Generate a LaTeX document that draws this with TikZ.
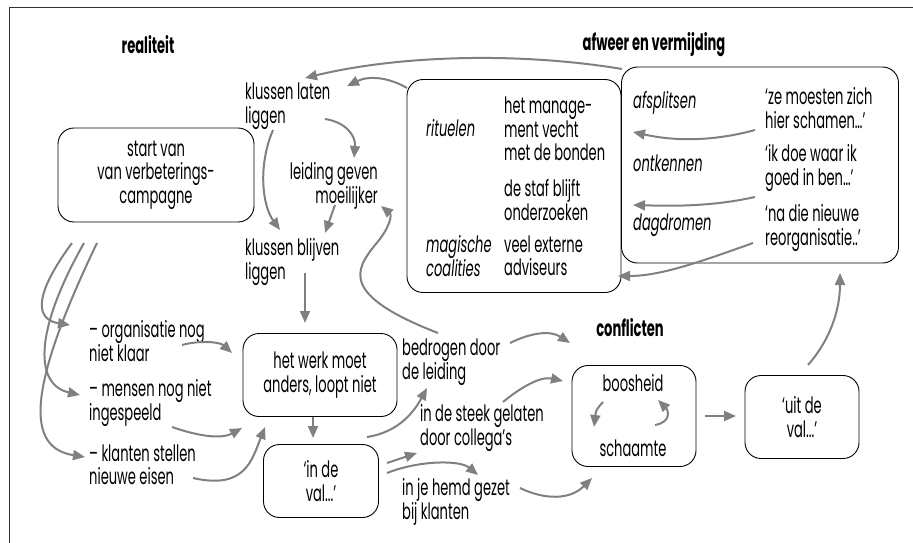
\documentclass[tikz,border=0pt]{standalone}
\usepackage{fontspec}
\setmainfont{Poppins}[FakeStretch=0.58]
\usetikzlibrary{arrows.meta}
\definecolor{arrowgray}{RGB}{128,128,128}
\begin{document}
\begin{tikzpicture}[x=1pt,y=-1pt,
  font=\fontsize{22.5}{23.5}\selectfont,
  box/.style={draw=black, line width=0.9pt, rounded corners=16pt, align=center, inner sep=0pt},
  txt/.style={align=left, inner sep=0pt},
  rtxt/.style={align=right, inner sep=0pt},
  itxt/.style={align=left, inner sep=0pt, font=\fontsize{22.5}{23.5}\selectfont\itshape},
  head/.style={inner sep=0pt, font=\fontsize{22.5}{23.5}\selectfont\bfseries},
  arr/.style={draw=arrowgray, line width=2pt, -{Triangle[length=12pt,width=10pt]}},
  ln/.style={draw=arrowgray, line width=2pt}]
\useasboundingbox (0,0) rectangle (913,543);
\draw[line width=1pt, black!80] (913,8) -- (9,8) -- (9,543);

% headings
\node[head] (hreal) at (148,45) {realiteit};
\node[head] (hafw) at (654,45) {afweer en vermijding};
\node[head] (hconf) at (630,328) {conflicten};

% boxes
\node[box, minimum width=196pt, minimum height=94pt] (start) at (156,175) {start van\\van verbeterings-\\campagne};
\node[box, minimum width=154pt, minimum height=83pt] (werk) at (320,375) {het werk moet\\anders, loopt niet};
\node[box, minimum width=115pt, minimum height=73pt] (inval) at (321,481) {‘in de\\val...’};
\node[box, minimum width=124pt, minimum height=101pt] (conf) at (634,416) {};
\node[box, minimum width=114pt, minimum height=83pt] (uit) at (802,417) {‘uit de\\val...’};
\node[box, minimum width=214pt, minimum height=213pt] (rit) at (514,186) {};
\node[box, minimum width=277pt, minimum height=196pt] (afs) at (760,165) {};

% texts
\node[txt, anchor=west] (kll) at (245,106) {klussen laten\\liggen};
\node[rtxt, anchor=east] (lgm) at (378,186) {leiding geven\\moeilijker};
\node[txt, anchor=west] (klb) at (245,262) {klussen blijven\\liggen};
\node[txt, anchor=west] (org) at (89,341) {– organisatie nog\\niet klaar};
\node[txt, anchor=west] (men) at (89,403) {– mensen nog niet\\ingespeeld};
\node[txt, anchor=west] (kla) at (89,465) {– klanten stellen\\nieuwe eisen};
\node[txt, anchor=west] (bed) at (402,362) {bedrogen door\\de leiding};
\node[txt, anchor=west] (stk) at (420,428) {in de steek gelaten\\door collega’s};
\node[txt, anchor=west] (hemd) at (402,502) {in je hemd gezet\\bij klanten};
\node[inner sep=0pt] (boos) at (633,383) {boosheid};
\node[inner sep=0pt] (scha) at (633,448) {schaamte};

\node[itxt, anchor=west] (r1) at (426,128) {rituelen};
\node[txt, anchor=west] (r2) at (504,129) {het manage-\\ment vecht\\met de bonden};
\node[txt, anchor=west] (r3) at (504,200) {de staf blijft\\onderzoeken};
\node[itxt, anchor=west] (r4) at (426,256) {magische\\coalities};
\node[txt, anchor=west] (r5) at (504,256) {veel externe\\adviseurs};

\node[itxt, anchor=west] (s1) at (633,103) {afsplitsen};
\node[itxt, anchor=west] (s2) at (633,163) {ontkennen};
\node[itxt, anchor=west] (s3) at (633,225) {dagdromen};
\node[txt, anchor=west] (q1) at (765,108) {‘ze moesten zich\\hier schamen\ldots’};
\node[txt, anchor=west] (q2) at (765,168) {‘ik doe waar ik\\goed in ben\ldots’};
\node[txt, anchor=west] (q3) at (765,228) {‘na die nieuwe\\reorganisatie..’};

% top arrows
\draw[arr] ([shift={(-138,-96)}]afs.center) .. controls (520,52) and (400,55) .. ([shift={(60,-28)}]kll.west);
\draw[arr] ([shift={(-107,-98)}]rit.center) .. controls (390,78) and (370,75) .. ([shift={(102,-20)}]kll.west);
% inside afs
\draw[arr] ([shift={(-10,22)}]q1.west) .. controls (700,145) and (660,138) .. ([shift={(0,29)}]s1.west);
\draw[arr] ([shift={(-10,29)}]q2.west) .. controls (710,207) and (670,206) .. ([shift={(0,42)}]s2.west);
\draw[arr] ([shift={(-12,15)}]q3.west) .. controls (700,262) and (660,276) .. ([shift={(104,90)}]rit.center);

% klussen
\draw[arr] ([shift={(80,13)}]kll.west) .. controls (345,122) and (356,135) .. ([shift={(-24,-28)}]lgm.east);
\draw[arr] ([shift={(28,24)}]kll.west) .. controls (258,165) and (262,205) .. ([shift={(35,-32)}]klb.west);
\draw[arr] ([shift={(-43,19)}]lgm.east) -- ([shift={(80,-29)}]klb.west);
\draw[arr] ([shift={(60,11)}]klb.west) -- ([shift={(-15,-52)}]werk.center);
\draw[arr] ([shift={(-7,42)}]werk.center) -- ([shift={(-8,-43)}]inval.center);

% left texts to werk
\draw[arr] ([shift={(93,4)}]org.west) .. controls (200,340) and (220,342) .. ([shift={(-88,-22)}]werk.center);
\draw[arr] ([shift={(83,24)}]men.west) .. controls (195,435) and (220,440) .. ([shift={(-78,53)}]werk.center);
\draw[arr] ([shift={(104,13)}]kla.west) .. controls (245,490) and (252,460) .. ([shift={(-55,52)}]werk.center);

% fan from start
\draw[arr] ([shift={(-84,68)}]start.center) .. controls (30,300) and (38,320) .. ([shift={(-19,-16)}]org.west);
\draw[arr] ([shift={(-72,68)}]start.center) .. controls (32,335) and (36,385) .. ([shift={(-9,-8)}]men.west);
\draw[arr] ([shift={(-59,68)}]start.center) .. controls (24,395) and (28,448) .. ([shift={(-4,-8)}]kla.west);

% bedrogen to leiding
\draw[arr] ([shift={(36,-29)}]bed.west) .. controls (340,295) and (355,270) .. (375,245) .. controls (390,228) and (392,215) .. ([shift={(3,20)}]lgm.east);

% from in de val
\draw[arr] ([shift={(46,-44)}]inval.center) .. controls (400,432) and (415,410) .. ([shift={(25,26)}]bed.west);
\draw[arr] ([shift={(66,-18)}]inval.center) -- ([shift={(-3,25)}]stk.west);
\draw[arr] ([shift={(66,-8)}]inval.center) .. controls (420,460) and (460,460) .. ([shift={(76,-27)}]hemd.west);

% to conflicts
\draw[arr] ([shift={(108,-19)}]bed.west) .. controls (530,333) and (550,330) .. ([shift={(-64,-73)}]conf.center);
\draw[arr] ([shift={(83,-26)}]stk.west) .. controls (520,388) and (540,376) .. ([shift={(-71,-35)}]conf.center);
\draw[arr] ([shift={(118,-14)}]hemd.west) .. controls (545,500) and (570,500) .. ([shift={(-42,62)}]conf.center);

% inside conflicts
\draw[arr] ([shift={(-31,-14)}]conf.center) .. controls (596,410) .. ([shift={(-40,11)}]conf.center);
\draw[arr] ([shift={(21,9)}]conf.center) .. controls (672,422) and (668,410) .. ([shift={(24,-16)}]conf.center);

\draw[arr] ([shift={(71,0)}]conf.center) -- ([shift={(-66,-1)}]uit.center);
\draw[arr] ([shift={(6,-52)}]uit.center) .. controls (830,340) and (840,310) .. ([shift={(80,108)}]afs.center);
\end{tikzpicture}
\end{document}
